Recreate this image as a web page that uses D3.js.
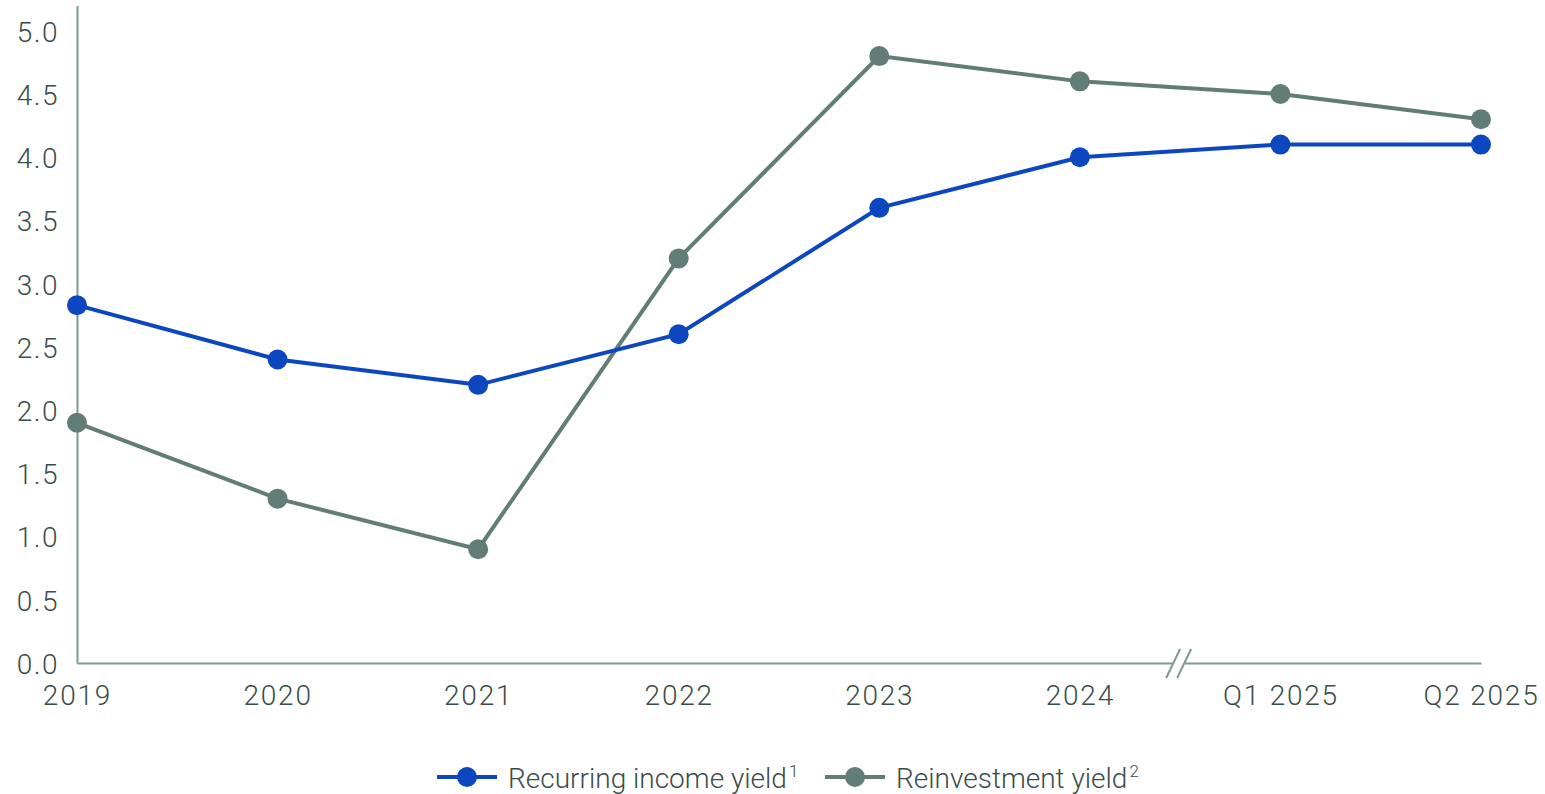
<!DOCTYPE html>
<html>
<head>
<meta charset="utf-8">
<script src="https://cdn.jsdelivr.net/npm/d3@7"></script>
<style>
  html, body { margin: 0; padding: 0; background: #ffffff; }
  svg { display: block; }
  text { font-family: Roboto, "Noto Sans", sans-serif; font-weight: 300; fill: #3b4d48; }
</style>
</head>
<body>
<svg id="chart" width="1545" height="794"></svg>
<script>
// Periods along the x axis
const categories = ["2019", "2020", "2021", "2022", "2023", "2024", "Q1 2025", "Q2 2025"];
// Yields in percent
const recurringIncome = [2.83, 2.4, 2.2, 2.6, 3.6, 4.0, 4.1, 4.1];
const reinvestment = [1.9, 1.3, 0.9, 3.2, 4.8, 4.6, 4.5, 4.3];
const yTicks = [0, 0.5, 1, 1.5, 2, 2.5, 3, 3.5, 4, 4.5, 5];
const seriesNames = ["Recurring income yield", "Reinvestment yield"];
const footnotes = ["1", "2"];

const colors = ["#0d47bf", "#617d75"];
const axisColor = "#7f9993";
const textColor = "#3b4d48";

const svg = d3.select("#chart");
const left = 77, right = 1481, bottom = 663;

const x = d3.scalePoint().domain(categories).range([left, right]).padding(0);
const y = d3.scaleLinear().domain([0, 5.2]).range([bottom, 5.5]);

// Y axis
const yAxis = svg.append("g")
  .attr("transform", `translate(${left},0)`)
  .call(d3.axisLeft(y).tickValues(yTicks).tickFormat(d3.format(".1f")).tickSize(0).tickPadding(18));
yAxis.select(".domain").attr("stroke", axisColor).attr("stroke-width", 2);
yAxis.selectAll("text").attr("font-size", 28).attr("dy", "0.37em")
  .style("font-family", "Roboto, sans-serif").style("font-weight", 300)
  .style("letter-spacing", "1.5px").attr("fill", textColor);

// X axis
const xAxis = svg.append("g")
  .attr("transform", `translate(0,${bottom})`)
  .call(d3.axisBottom(x).tickSize(0));
xAxis.select(".domain").attr("stroke", axisColor).attr("stroke-width", 2);
xAxis.selectAll("text").attr("font-size", 28).attr("y", 42).attr("dy", 0)
  .style("font-family", "Roboto, sans-serif").style("font-weight", 300)
  .style("letter-spacing", "1.8px").attr("fill", textColor);

// Axis break between 2024 and Q1 2025
const bx = (x("2024") + x("Q1 2025")) / 2 - 1;
const brk = svg.append("g");
brk.append("rect").attr("x", bx - 6).attr("y", bottom - 2).attr("width", 12).attr("height", 4).attr("fill", "#ffffff");
[-6, 5].forEach(o => {
  brk.append("line")
    .attr("x1", bx + o - 7).attr("y1", bottom + 15)
    .attr("x2", bx + o + 7).attr("y2", bottom - 14)
    .attr("stroke", axisColor).attr("stroke-width", 2);
});

// Series lines and markers
const series = [recurringIncome, reinvestment];
const line = d3.line().x((d, i) => x(categories[i])).y(d => y(d));

series.slice().reverse().forEach((vals, ri) => {
  const si = series.length - 1 - ri;
  svg.append("path")
    .datum(vals)
    .attr("d", line)
    .attr("fill", "none")
    .attr("stroke", colors[si])
    .attr("stroke-width", 4);
  svg.append("g").selectAll("circle")
    .data(vals)
    .join("circle")
    .attr("cx", (d, i) => x(categories[i]))
    .attr("cy", d => y(d))
    .attr("r", 10)
    .attr("fill", colors[si]);
});

// Legend
const legendY = 777;
const legendItems = [{ x0: 437 }, { x0: 825 }];
legendItems.forEach((it, i) => {
  const g = svg.append("g");
  g.append("line").attr("x1", it.x0).attr("x2", it.x0 + 60)
    .attr("y1", legendY).attr("y2", legendY)
    .attr("stroke", colors[i]).attr("stroke-width", 4);
  g.append("circle").attr("cx", it.x0 + 30).attr("cy", legendY).attr("r", 10).attr("fill", colors[i]);
  const t = g.append("text").attr("x", it.x0 + 71).attr("y", 788).attr("font-size", 28).attr("fill", textColor);
  t.append("tspan").text(seriesNames[i]);
  t.append("tspan").attr("font-size", 17).attr("dy", -11).attr("dx", 2).text(footnotes[i]);
});
</script>
</body>
</html>
